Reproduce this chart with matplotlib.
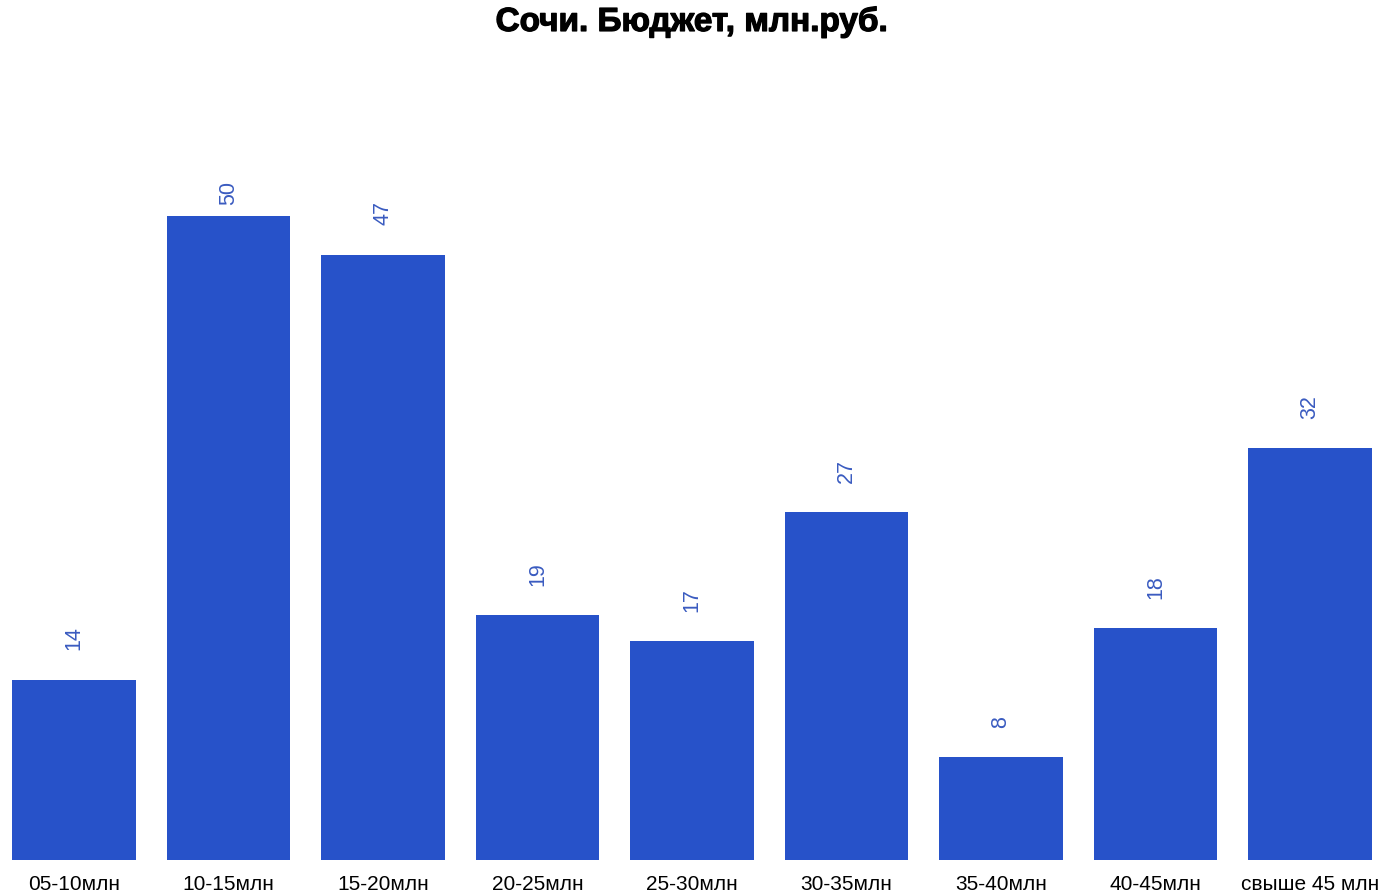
import matplotlib
matplotlib.use("Agg")
import matplotlib.pyplot as plt
import matplotlib.patheffects as pe

plt.rcParams['font.family'] = ['Liberation Sans', 'DejaVu Sans']

# Бюджет по диапазонам
categories = ["05-10млн", "10-15млн", "15-20млн", "20-25млн", "25-30млн",
              "30-35млн", "35-40млн", "40-45млн", "свыше 45 млн"]
counts = [14, 50, 47, 19, 17, 27, 8, 18, 32]

bar_color = "#2752c9"
label_color = "#3a5bc0"

fig = plt.figure(figsize=(13.84, 8.95), dpi=100)
ax = fig.add_axes([12 / 1384, 34 / 895, 1360 / 1384, 801 / 895])

x = range(len(categories))
ax.bar(x, counts, width=0.8, color=bar_color)
ax.set_xlim(-0.4, len(categories) - 0.6)
ax.set_ylim(0, 801 / 12.88)

# подписи значений над столбцами (не выше верхней границы)
for i, v in zip(x, counts):
    ax.text(i, min(v + 2.35, 50.95), str(v), rotation=90, ha='center', va='bottom',
            fontsize=15.5, color=label_color)

ax.set_xticks(list(x))
ax.set_xticklabels(categories, fontsize=15)
ax.tick_params(axis='x', length=0, pad=10)
ax.set_yticks([])
for s in ax.spines.values():
    s.set_visible(False)

fig.text(0.5, 1 - 23 / 895, "Сочи. Бюджет, млн.руб.", ha='center', va='center',
         fontsize=24, fontweight='bold',
         path_effects=[pe.withStroke(linewidth=0.9, foreground='black')])

fig.savefig("out.png", dpi=100)
